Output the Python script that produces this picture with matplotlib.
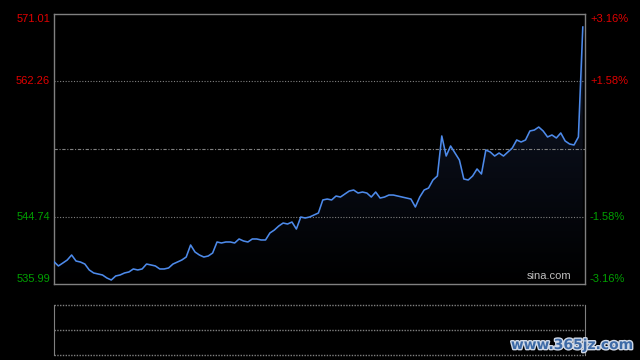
import matplotlib
matplotlib.use("Agg")
import matplotlib.pyplot as plt
import matplotlib.transforms as mtransforms
import matplotlib.patheffects as pe
import numpy as np

# Datos del grafico intradia (un valor cada 2 minutos, 0..240)
minutos = np.arange(0, 241, 2)
precios = [
    538.88, 538.33, 538.71, 539.10, 539.75, 538.97, 538.84, 538.58, 537.81, 537.42,
    537.29, 537.16, 536.77, 536.51, 537.03, 537.16, 537.42, 537.55, 537.94, 537.81,
    537.94, 538.58, 538.46, 538.33, 537.94, 537.94, 538.07, 538.58, 538.84, 539.10,
    539.49, 541.05, 540.14, 539.75, 539.49, 539.62, 540.01, 541.44, 541.31, 541.44,
    541.44, 541.31, 541.83, 541.57, 541.44, 541.83, 541.83, 541.70, 541.70, 542.61,
    542.99, 543.51, 543.90, 543.77, 544.03, 543.12, 544.68, 544.55, 544.68, 544.94,
    545.20, 546.89, 547.01, 546.89, 547.40, 547.27, 547.66, 548.05, 548.18, 547.79,
    547.92, 547.79, 547.27, 547.92, 547.14, 547.27, 547.53, 547.53, 547.40, 547.27,
    547.14, 547.01, 545.98, 547.27, 548.18, 548.44, 549.48, 550.00, 555.19, 552.59,
    553.89, 552.98, 552.07, 549.61, 549.48, 550.00, 550.91, 550.26, 553.37, 553.11,
    552.59, 552.98, 552.59, 553.11, 553.63, 554.67, 554.41, 554.67, 555.84, 555.96,
    556.35, 555.84, 555.06, 555.32, 554.93, 555.58, 554.54, 554.15, 554.02, 555.06,
    569.32,
]

cierre_anterior = 553.50
niveles = [571.01, 562.26, 544.74, 535.99]
etiquetas_izq = ["571.01", "562.26", "544.74", "535.99"]
etiquetas_der = ["+3.16%", "+1.58%", "-1.58%", "-3.16%"]

ROJO = "#e00000"
VERDE = "#00a000"
GRIS = "#808080"

fig = plt.figure(figsize=(6.4, 3.6), dpi=100, facecolor="black")
plt.rcParams["font.family"] = ["Liberation Sans", "DejaVu Sans"]

# Panel principal
ax = fig.add_axes([54 / 640, 1 - 284 / 360, 531 / 640, 270 / 360])
ax.set_facecolor("black")
ax.set_xlim(0, 241)
ax.set_ylim(niveles[-1], niveles[0])
ax.set_xticks([])
ax.set_yticks([])
for s in ax.spines.values():
    s.set_color(GRIS)
    s.set_linewidth(1)

# Relleno en degradado bajo la linea
poly = ax.fill_between(minutos, precios, niveles[-1], color="none", lw=0)
grad = np.linspace(0, 1, 256)
colores = np.zeros((256, 1, 3))
colores[:, 0, 0] = 0.07 * grad
colores[:, 0, 1] = 0.10 * grad
colores[:, 0, 2] = 0.18 * grad
img = ax.imshow(colores, extent=[0, 241, niveles[-1], niveles[0]], origin="lower",
                aspect="auto", zorder=1)
img.set_clip_path(poly.get_paths()[0], transform=ax.transData)

# Lineas de referencia
for y in (niveles[1], niveles[2]):
    ax.axhline(y, color=GRIS, lw=0.8, ls=(0, (1, 1.5)), zorder=2)
ax.axhline(cierre_anterior, color=GRIS, lw=0.8, ls=(0, (3, 1.5, 1, 1.5)), zorder=2)

ax.plot(minutos, precios, color="#4d8aea", lw=1.15, zorder=3)

# Etiquetas de los ejes
trans_izq = mtransforms.blended_transform_factory(fig.transFigure, ax.transData)
alineaciones = ["top", "center", "center", "bottom"]
for y, ti, td, va in zip(niveles, etiquetas_izq, etiquetas_der, alineaciones):
    col = ROJO if y > cierre_anterior else VERDE
    ax.text(50 / 640, y, ti, transform=trans_izq, ha="right", va=va,
            color=col, fontsize=8)
    ax.text(590 / 640, y, td, transform=trans_izq, ha="left", va=va,
            color=col, fontsize=8)

ax.text(0.975, 0.012, "sina.com", transform=ax.transAxes, ha="right", va="bottom",
        color="#c0c0c0", fontsize=8)

# Panel inferior (volumen vacio)
ax2 = fig.add_axes([54 / 640, 1 - 354.5 / 360, 531 / 640, 49.5 / 360])
ax2.set_facecolor("black")
ax2.set_xlim(0, 241)
ax2.set_ylim(0, 2)
ax2.set_xticks([])
ax2.set_yticks([])
ax2.spines["top"].set_visible(False)
ax2.spines["bottom"].set_visible(False)
for lado in ("left", "right"):
    ax2.spines[lado].set_color(GRIS)
for y in (0, 1, 2):
    ax2.axhline(y, color=GRIS, lw=1.0, ls=(0, (1, 1)), clip_on=False)

# Marca de agua
fig.text(633 / 640, 1 - 345 / 360, "www.365jz.com", ha="right", va="center",
         fontsize=10, fontweight="bold", color="#3d6aa6", family="DejaVu Sans",
         path_effects=[pe.withStroke(linewidth=2, foreground="#cfd8e6")])

fig.savefig("out.png", dpi=100, facecolor="black")
